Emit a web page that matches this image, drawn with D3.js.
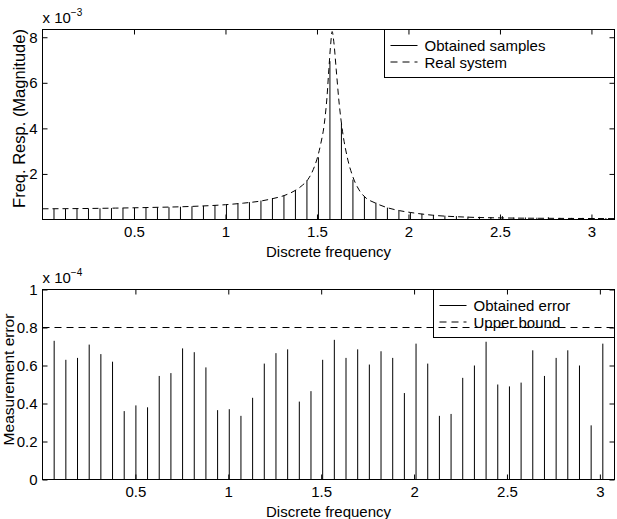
<!DOCTYPE html>
<html>
<head>
<meta charset="utf-8">
<script src="https://cdn.jsdelivr.net/npm/d3@7"></script>
<style>
body { margin: 0; background: #fff; }
text { font-family: "Liberation Sans", Arial, Helvetica, sans-serif; }
</style>
</head>
<body>
<svg width="617" height="519"></svg>
<script>
// discrete frequencies of the samples (k*pi/50)
var sampleFreq = [0.0628, 0.1257, 0.1885, 0.2513, 0.3142, 0.3770, 0.4398, 0.5027, 0.5655, 0.6283,
                  0.6912, 0.7540, 0.8168, 0.8796, 0.9425, 1.0053, 1.0681, 1.1310, 1.1938, 1.2566,
                  1.3195, 1.3823, 1.4451, 1.5080, 1.5708, 1.6336, 1.6965, 1.7593, 1.8221, 1.8850,
                  1.9478, 2.0106, 2.0735, 2.1363, 2.1991, 2.2619, 2.3248, 2.3876, 2.4504, 2.5133,
                  2.5761, 2.6389, 2.7018, 2.7646, 2.8274, 2.8903, 2.9531, 3.0159, 3.0788];

// obtained samples, x 10^-3
var sampleMag = [0.47, 0.46, 0.47, 0.48, 0.49, 0.50, 0.50, 0.51, 0.52, 0.53,
                 0.54, 0.56, 0.58, 0.60, 0.63, 0.66, 0.71, 0.76, 0.83, 0.94,
                 1.05, 1.29, 1.71, 2.73, 6.95, 4.20, 1.75, 1.02, 0.74, 0.52,
                 0.39, 0.31, 0.25, 0.20, 0.17, 0.15, 0.13, 0.12, 0.11, 0.15,
                 0.09, 0.09, 0.08, 0.10, 0.07, 0.07, 0.07, 0.06, 0.06];

// real system curve, x 10^-3
var realFreq = [0, 0.2, 0.4, 0.6, 0.8, 1.0, 1.1, 1.2, 1.26, 1.32, 1.38, 1.42, 1.45, 1.48, 1.50,
                1.52, 1.54, 1.555, 1.565, 1.575, 1.583, 1.592, 1.605, 1.62, 1.64, 1.665, 1.695,
                1.73, 1.76, 1.82, 1.88, 1.95, 2.01, 2.13, 2.30, 2.50, 2.80, 3.126];
var realMag = [0.47, 0.48, 0.50, 0.53, 0.57, 0.65, 0.72, 0.82, 0.92, 1.05, 1.27, 1.50, 1.75, 2.20, 2.65,
               3.30, 4.20, 5.40, 6.60, 7.70, 8.25, 7.80, 6.60, 5.20, 3.85, 2.75, 1.90,
               1.30, 1.00, 0.72, 0.53, 0.39, 0.31, 0.19, 0.11, 0.07, 0.05, 0.04];

// measurement error, x 10^-4
var errorFreq = sampleFreq.slice(0, 48);
var errorVal = [0.73, 0.63, 0.64, 0.71, 0.66, 0.62, 0.36, 0.39, 0.38, 0.545,
                0.56, 0.69, 0.67, 0.59, 0.365, 0.37, 0.335, 0.43, 0.61, 0.665,
                0.685, 0.41, 0.465, 0.63, 0.735, 0.64, 0.685, 0.605, 0.675, 0.64,
                0.455, 0.715, 0.61, 0.335, 0.345, 0.535, 0.60, 0.725, 0.50, 0.49,
                0.51, 0.68, 0.545, 0.64, 0.68, 0.60, 0.285, 0.715];
var upperBound = 0.8;

var xTicks = [0.5, 1, 1.5, 2, 2.5, 3];
var topYTicks = [2, 4, 6, 8];
var botYTicks = [0, 0.2, 0.4, 0.6, 0.8, 1];

var svg = d3.select("svg");
var left = 42.5, right = 614.5;

// scales
var x1 = d3.scaleLinear().domain([0, 3.126]).range([left, right]),
    y1 = d3.scaleLinear().domain([0, 8.34]).range([219.5, 29.5]),
    x2 = d3.scaleLinear().domain([0, 3.0788]).range([left, right]),
    y2 = d3.scaleLinear().domain([0, 1]).range([479.5, 289.5]);

// draw box, inward ticks on all four sides
function frame(x, y, yTicks) {
  var g = svg.append("g");
  var y0 = y.range()[0], yTop = y.range()[1];

  g.append("g")
      .attr("transform", "translate(0," + y0 + ")")
      .call(d3.axisBottom(x).tickValues(xTicks).tickSizeInner(-5).tickSizeOuter(0)
        .tickPadding(7).tickFormat(function(d) { return String(d); }));
  g.append("g")
      .attr("transform", "translate(0," + yTop + ")")
      .call(d3.axisTop(x).tickValues(xTicks).tickSizeInner(-5).tickSizeOuter(0).tickFormat(""));
  g.append("g")
      .attr("transform", "translate(" + left + ",0)")
      .call(d3.axisLeft(y).tickValues(yTicks).tickSizeInner(-5).tickSizeOuter(0)
        .tickPadding(5).tickFormat(function(d) { return String(d); }));
  g.append("g")
      .attr("transform", "translate(" + right + ",0)")
      .call(d3.axisRight(y).tickValues(yTicks).tickSizeInner(-5).tickSizeOuter(0).tickFormat(""));

  g.selectAll(".domain").remove();
  g.selectAll("text")
      .attr("font-family", "Liberation Sans, Arial, sans-serif")
      .attr("font-size", 15)
      .attr("fill", "#000");
  g.selectAll(".tick line").attr("stroke", "#000");

  g.append("rect")
      .attr("x", left).attr("y", yTop)
      .attr("width", right - left).attr("height", y0 - yTop)
      .attr("fill", "none").attr("stroke", "#000").attr("stroke-width", 1);
}

function exponent(xp, yp, p) {
  var t = svg.append("text").attr("x", xp).attr("y", yp).attr("font-size", 15).text("x 10");
  t.append("tspan").attr("dy", -7).attr("font-size", 10).text("\u2212" + p);
}

function legend(x0, y0, w, rows) {
  var g = svg.append("g");
  g.append("rect").attr("x", x0).attr("y", y0).attr("width", w).attr("height", 48)
      .attr("fill", "#fff").attr("stroke", "#000");
  rows.forEach(function(r, i) {
    var yy = y0 + 16 + i * 16.5;
    g.append("line").attr("x1", x0 + 6).attr("x2", x0 + 33).attr("y1", yy).attr("y2", yy)
        .attr("stroke", "#000").attr("stroke-dasharray", r.dash);
    g.append("text").attr("x", x0 + 40).attr("y", yy + 5.5).attr("font-size", 15).text(r.label);
  });
}

// ---------- top plot ----------
svg.append("g").selectAll("line")
    .data(sampleFreq)
  .enter().append("line")
    .attr("x1", function(d) { return x1(d); })
    .attr("x2", function(d) { return x1(d); })
    .attr("y1", y1(0))
    .attr("y2", function(d, i) { return y1(sampleMag[i]); })
    .attr("stroke", "#000");

var realLine = d3.line()
    .x(function(d, i) { return x1(realFreq[i]); })
    .y(function(d) { return y1(d); })
    .curve(d3.curveMonotoneX);

svg.append("path")
    .datum(realMag)
    .attr("d", realLine)
    .attr("fill", "none")
    .attr("stroke", "#000")
    .attr("stroke-dasharray", "6,4");

legend(384.5, 29.5, 230, [{label: "Obtained samples", dash: null}, {label: "Real system", dash: "7,5"}]);
frame(x1, y1, topYTicks);
exponent(42.5, 22.5, 3);

svg.append("text")
    .attr("x", (left + right) / 2).attr("y", 256.5)
    .attr("text-anchor", "middle").attr("font-size", 15)
    .text("Discrete frequency");
svg.append("text")
    .attr("transform", "translate(24.5,118.5) rotate(-90)")
    .attr("text-anchor", "middle").attr("font-size", 16.5)
    .text("Freq. Resp. (Magnitude)");

// ---------- bottom plot ----------
svg.append("g").selectAll("line")
    .data(errorFreq)
  .enter().append("line")
    .attr("x1", function(d) { return x2(d); })
    .attr("x2", function(d) { return x2(d); })
    .attr("y1", y2(0))
    .attr("y2", function(d, i) { return y2(errorVal[i]); })
    .attr("stroke", "#000");

legend(433.5, 289.5, 181, [{label: "Obtained error", dash: null}, {label: "Upper bound", dash: "7,5"}]);

svg.append("line")
    .attr("x1", left).attr("x2", right)
    .attr("y1", y2(upperBound)).attr("y2", y2(upperBound))
    .attr("stroke", "#000")
    .attr("stroke-dasharray", "7,5");

frame(x2, y2, botYTicks);
exponent(42.5, 282.5, 4);

svg.append("text")
    .attr("x", (left + right) / 2).attr("y", 516.5)
    .attr("text-anchor", "middle").attr("font-size", 15)
    .text("Discrete frequency");
svg.append("text")
    .attr("transform", "translate(13.5,379.5) rotate(-90)")
    .attr("text-anchor", "middle").attr("font-size", 15.5)
    .text("Measurement error");
</script>
</body>
</html>
